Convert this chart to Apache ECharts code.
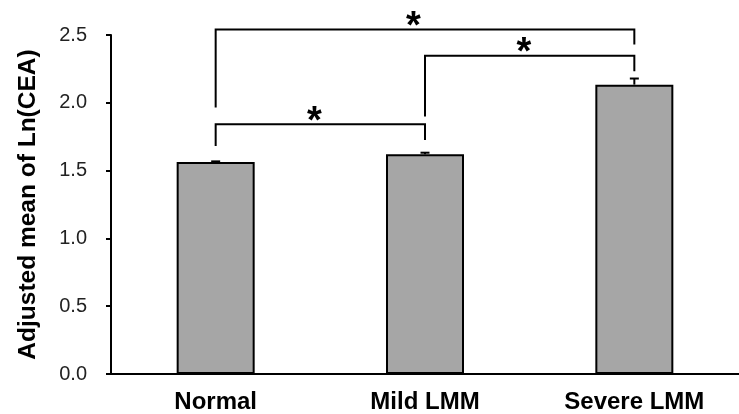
<!DOCTYPE html>
<html>
<head>
<meta charset="utf-8">
<script src="https://cdn.jsdelivr.net/npm/echarts@6/dist/echarts.min.js"></script>
<style>html,body{margin:0;padding:0;background:#fff}#c{width:739px;height:414px}</style>
</head>
<body>
<div id="c"></div>
<script>
const categories = ['Normal', 'Mild LMM', 'Severe LMM'];
const means = [1.563, 1.620, 2.134];
const errors = [0.005, 0.012, 0.045];
const yTicks = [0, 0.5, 1.0, 1.5, 2.0, 2.5];
// brackets: [fromIndex, toIndex, lineY, leftLegBottomY, rightLegBottomY]
const bracketFrom = [0, 1, 0];
const bracketTo = [1, 2, 2];
const bracketLineY = [1.842, 2.347, 2.540];
const bracketLeftEnd = [1.682, 1.899, 1.965];
const bracketRightEnd = [1.726, 2.232, 2.430];
const bracketLabels = ['*', '*', '*'];

const chart = echarts.init(document.getElementById('c'));
const errData = means.map((m, i) => [i, m, m + errors[i]]);
const brData = bracketFrom.map((f, i) => [f, bracketTo[i], bracketLineY[i], bracketLeftEnd[i], bracketRightEnd[i]]);

chart.setOption({
  animation: false,
  grid: { left: 111, top: 35, width: 636, bottom: 39.5 },
  xAxis: {
    type: 'category',
    data: categories,
    boundaryGap: true,
    axisLine: { lineStyle: { color: '#000', width: 2 } },
    axisTick: { alignWithLabel: true, length: 5, lineStyle: { color: '#000', width: 2 } },
    axisLabel: { color: '#000', fontFamily: 'Liberation Sans', fontWeight: 'bold', fontSize: 24, margin: 16 }
  },
  yAxis: {
    type: 'value',
    min: yTicks[0],
    max: yTicks[yTicks.length - 1],
    interval: 0.5,
    name: 'Adjusted mean of Ln(CEA)',
    nameLocation: 'middle',
    nameGap: 70,
    nameTextStyle: { color: '#000', fontFamily: 'Liberation Sans', fontWeight: 'bold', fontSize: 24.5 },
    splitLine: { show: false },
    axisLine: { show: true, lineStyle: { color: '#000', width: 2 } },
    axisTick: { show: true, length: 5, lineStyle: { color: '#000', width: 2 } },
    axisLabel: { color: '#222', fontFamily: 'Liberation Sans', fontSize: 20, margin: 24, formatter: v => v.toFixed(1) }
  },
  series: [
    {
      type: 'bar',
      data: means,
      barWidth: 78,
      itemStyle: { color: '#a6a6a6', borderColor: '#000', borderWidth: 2 }
    },
    {
      type: 'custom',
      clip: false,
      z: 5,
      encode: { x: 0, y: [1, 2] },
      data: errData,
      renderItem: function (params, api) {
        const x = api.value(0);
        const p0 = api.coord([x, api.value(1)]);
        const p1 = api.coord([x, api.value(2)]);
        const hw = 4.5;
        return {
          type: 'group',
          children: [
            { type: 'line', shape: { x1: p0[0], y1: p0[1], x2: p1[0], y2: p1[1] }, style: { stroke: '#000', lineWidth: 2 } },
            { type: 'line', shape: { x1: p1[0] - hw, y1: p1[1], x2: p1[0] + hw, y2: p1[1] }, style: { stroke: '#000', lineWidth: 2 } }
          ]
        };
      }
    },
    {
      type: 'custom',
      clip: false,
      z: 6,
      encode: { x: [0, 1], y: [2, 3, 4] },
      data: brData,
      renderItem: function (params, api) {
        const a = api.value(0), b = api.value(1);
        const pl = api.coord([a, api.value(2)]);
        const pr = api.coord([b, api.value(2)]);
        const plb = api.coord([a, api.value(3)]);
        const prb = api.coord([b, api.value(4)]);
        const tx = pl[0] + (pr[0] - pl[0]) * 0.472;
        return {
          type: 'group',
          children: [
            { type: 'polyline', shape: { points: [[plb[0], plb[1]], [pl[0], pl[1]], [pr[0], pr[1]], [prb[0], prb[1]]] }, style: { stroke: '#000', lineWidth: 2, fill: null } },
            { type: 'text', x: tx, y: pl[1] - 2, style: { text: bracketLabels[params.dataIndex], fill: '#000', font: 'bold 38px "Liberation Sans"', align: 'center', verticalAlign: 'middle' } }
          ]
        };
      }
    }
  ]
});
</script>
</body>
</html>
